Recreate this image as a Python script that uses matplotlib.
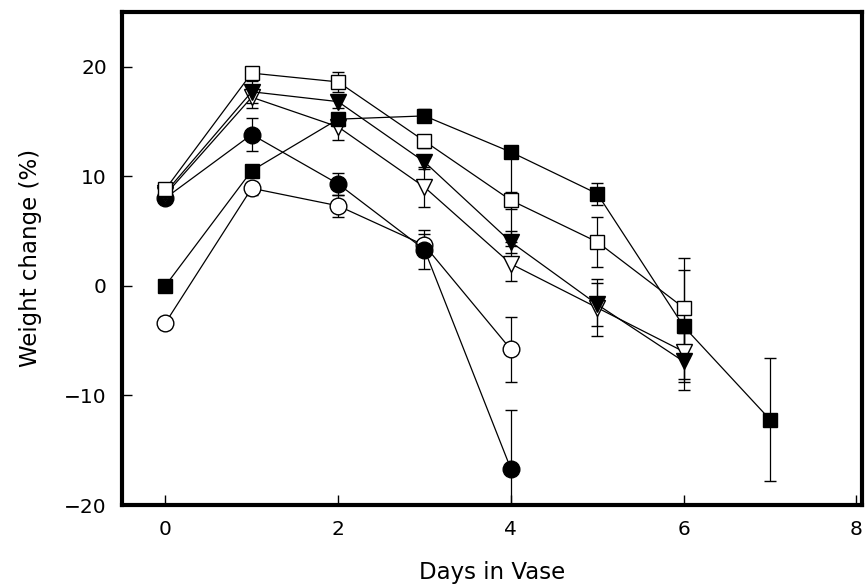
import numpy as np
import matplotlib
matplotlib.use("Agg")
import matplotlib.pyplot as plt

# data: weight change (%) vs days in vase
days_open_circle = [0, 1, 2, 3, 4]
open_circle = [-3.4, 8.9, 7.3, 3.7, -5.8]
open_circle_err = [0.0, 0.6, 1.0, 1.0, 3.0]

days_filled_circle = [0, 1, 2, 3, 4]
filled_circle = [8.0, 13.8, 9.3, 3.3, -16.7]
filled_circle_err = [0.0, 1.5, 1.0, 1.8, 5.4]

days_open_tri = [0, 1, 2, 3, 4, 5, 6]
open_tri = [8.3, 17.2, 14.5, 9.0, 2.0, -2.0, -6.0]
open_tri_err = [0.0, 1.0, 1.2, 1.8, 1.6, 2.6, 2.5]

days_filled_tri = [0, 1, 2, 3, 4, 5, 6]
filled_tri = [8.5, 17.7, 16.8, 11.3, 4.0, -1.7, -6.9]
filled_tri_err = [0.0, 1.0, 0.6, 0.6, 1.0, 2.0, 2.6]

days_open_sq = [0, 1, 2, 3, 4, 5, 6]
open_sq = [8.8, 19.4, 18.6, 13.2, 7.8, 4.0, -2.0]
open_sq_err = [0.0, 0.6, 0.9, 0.6, 0.8, 2.3, 4.5]

days_filled_sq = [0, 1, 2, 3, 4, 5, 6, 7]
filled_sq = [0.0, 10.5, 15.2, 15.5, 12.2, 8.4, -3.7, -12.2]
filled_sq_err_low = [0.0, 0.5, 0.6, 0.6, 8.2, 1.0, 5.1, 5.6]
filled_sq_err_high = [0.0, 0.5, 0.6, 0.6, 0.0, 1.0, 5.1, 5.6]

plt.rcParams['font.family'] = ['DejaVu Sans']

fig = plt.figure(figsize=(8.66, 5.86), dpi=100)
ax = fig.add_axes([0.141, 0.138, 0.854, 0.842])

series = [
    (days_open_circle, open_circle, open_circle_err, 'o', 'white', 12),
    (days_filled_circle, filled_circle, filled_circle_err, 'o', 'black', 12),
    (days_open_tri, open_tri, open_tri_err, 'v', 'white', 12),
    (days_filled_tri, filled_tri, filled_tri_err, 'v', 'black', 12),
    (days_open_sq, open_sq, open_sq_err, 's', 'white', 10),
    (days_filled_sq, filled_sq, [filled_sq_err_low, filled_sq_err_high], 's', 'black', 10),
]

for x, y, e, m, fc, ms in series:
    ax.errorbar(x, y, yerr=e, color='black', lw=0.9, elinewidth=0.9,
                capsize=4.5, capthick=0.9, marker=m, markersize=ms,
                markerfacecolor=fc, markeredgecolor='black',
                markeredgewidth=1.0)

ax.set_xlim(-0.5, 8.06)
ax.set_ylim(-20, 25)
ax.set_xticks([0, 2, 4, 6, 8])
ax.set_yticks([-20, -10, 0, 10, 20])
ax.set_yticklabels(['\u221220', '\u221210', '0', '10', '20'])

for s in ax.spines.values():
    s.set_linewidth(3)
ax.tick_params(direction='in', length=7, width=1, labelsize=14.5, pad=11)
ax.tick_params(top=False, right=False)

ax.set_xlabel('Days in Vase', fontsize=16.5, va='center')
ax.set_ylabel('Weight change (%)', fontsize=16.5, va='center')
ax.xaxis.set_label_coords(0.5, -0.136)
ax.yaxis.set_label_coords(-0.124, 0.5)

fig.savefig('out.png', dpi=100)
